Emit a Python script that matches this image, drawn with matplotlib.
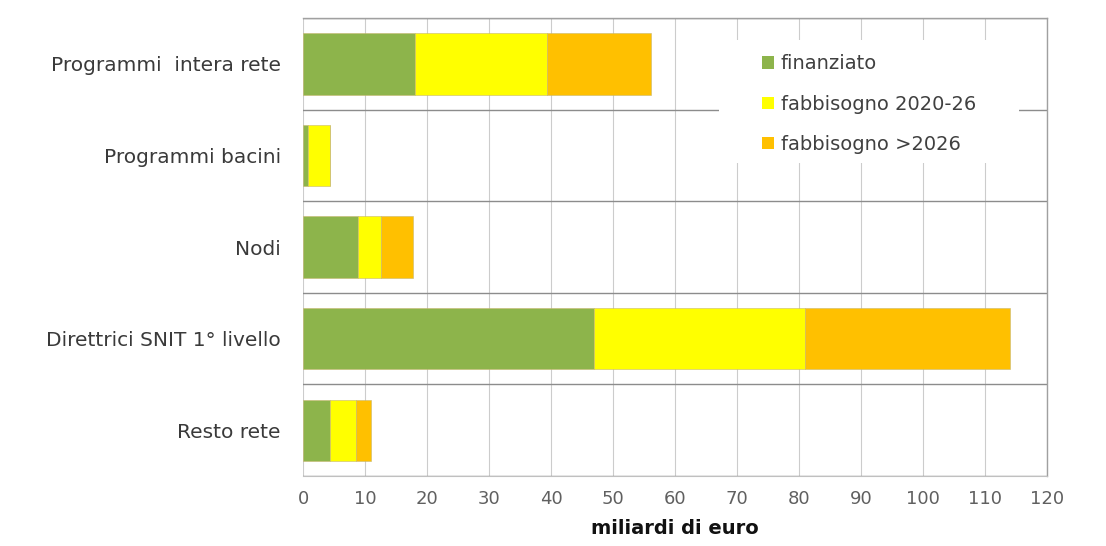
import numpy as np
import matplotlib
matplotlib.use("Agg")
import matplotlib.pyplot as plt
from matplotlib.patches import Patch, Rectangle

plt.rcParams["font.family"] = ["DejaVu Sans"]

categories = [
    "Programmi  intera rete",
    "Programmi bacini",
    "Nodi",
    "Direttrici SNIT 1° livello",
    "Resto rete",
]
finanziato = [18.0, 0.8, 8.9, 47.0, 4.3]
fabbisogno_2020_26 = [21.3, 3.6, 3.6, 34.0, 4.3]
fabbisogno_oltre_2026 = [16.9, 0.0, 5.3, 33.0, 2.3]

series_labels = ["finanziato", "fabbisogno 2020-26", "fabbisogno >2026"]
colors = ["#8db44b", "#ffff00", "#ffc000"]
xticks = list(range(0, 121, 10))


def main() -> None:
    fig = plt.figure(figsize=(11.06, 5.46), dpi=100)
    ax = fig.add_axes([0.274, 0.128, 0.6727, 0.839])

    y = np.arange(len(categories))
    left = np.zeros(len(categories))
    for vals, col in zip([finanziato, fabbisogno_2020_26, fabbisogno_oltre_2026], colors):
        ax.barh(y, vals, left=left, height=0.67, color=col,
                edgecolor="#c8b870", linewidth=0.4, zorder=3)
        left = left + np.array(vals)

    ax.set_xlim(0, 120)
    ax.set_ylim(len(categories) - 0.5, -0.5)
    ax.set_xticks(xticks)
    ax.set_yticks(y)
    ax.set_yticklabels(categories)
    ax.set_yticks(np.arange(len(categories) + 1) - 0.5, minor=True)

    ax.grid(axis="x", which="major", color="#cccccc", linewidth=0.8, zorder=0)
    ax.grid(axis="y", which="minor", color="#8c8c8c", linewidth=1.0, zorder=1)
    ax.tick_params(axis="both", which="both", length=0)
    ax.tick_params(axis="y", pad=16, labelsize=14.5, labelcolor="#3a3a3a")
    ax.tick_params(axis="x", pad=10, labelsize=13, labelcolor="#606060")

    ax.spines["left"].set_visible(False)
    ax.spines["bottom"].set_color("#c0c0c0")
    for side in ["top", "right"]:
        ax.spines[side].set_color("#a0a0a0")
        ax.spines[side].set_linewidth(1.0)

    ax.set_xlabel("miliardi di euro", fontsize=14, fontweight="bold",
                  color="#111111", labelpad=8)

    # white box behind the legend, hides the grid there
    ax.add_patch(Rectangle((0.559, 0.683), 0.403, 0.269, transform=ax.transAxes,
                           facecolor="white", edgecolor="none", zorder=4))

    handles = [Patch(facecolor=c, edgecolor="none") for c in colors]
    leg = ax.legend(handles, series_labels, loc="upper left",
                    bbox_to_anchor=(0.617, 0.921), frameon=False,
                    fontsize=14, handlelength=0.6, handleheight=0.6,
                    handletextpad=0.35, labelspacing=1.1, borderpad=0.0,
                    borderaxespad=0.0)
    leg.set_zorder(5)
    for t in leg.get_texts():
        t.set_color("#404040")

    fig.savefig("out.png", dpi=100, facecolor="white")


if __name__ == "__main__":
    main()
